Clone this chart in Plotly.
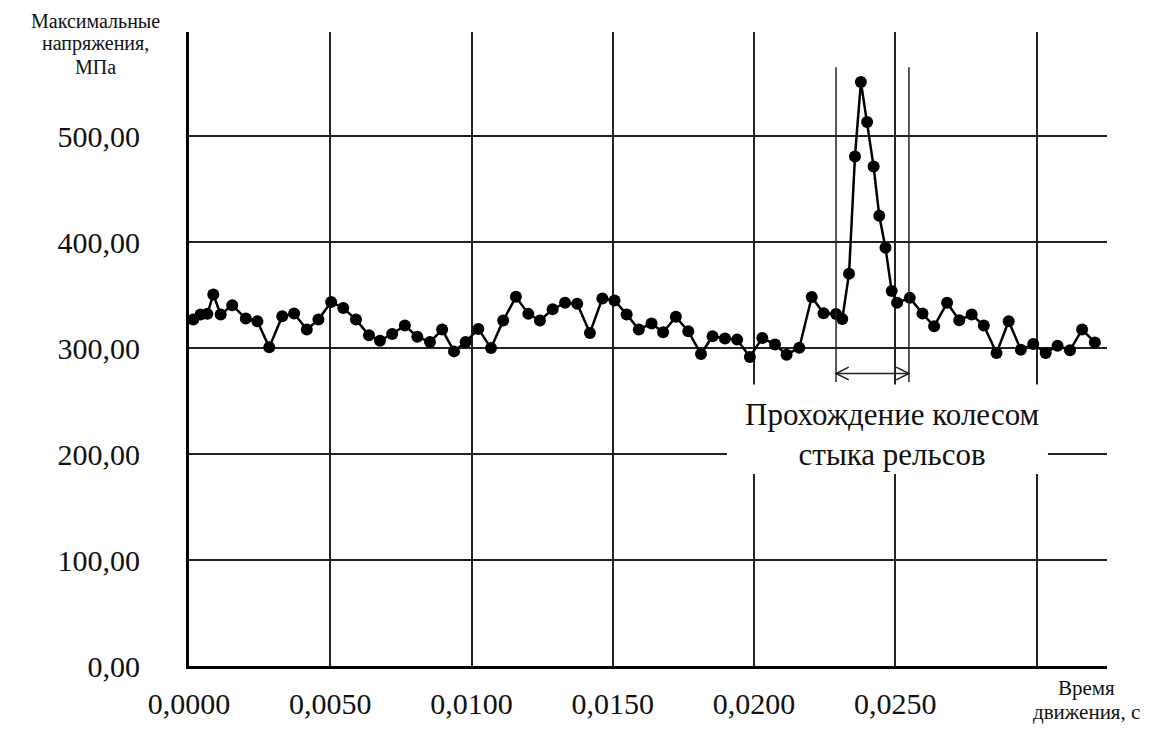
import plotly.graph_objects as go

# ---- data ----
time_s = [0.00015, 0.00041, 0.00065, 0.00086, 0.00112, 0.00153, 0.00201, 0.00242,
          0.00284, 0.00330, 0.00372, 0.00417, 0.00458, 0.00503, 0.00546, 0.00591,
          0.00637, 0.00676, 0.00719, 0.00764, 0.00808, 0.00853, 0.00896, 0.00938,
          0.00979, 0.01024, 0.01069, 0.01112, 0.01157, 0.01201, 0.01242, 0.01287,
          0.01331, 0.01374, 0.01419, 0.01463, 0.01506, 0.01549, 0.01592, 0.01637,
          0.01678, 0.01723, 0.01767, 0.01812, 0.01853, 0.01897, 0.01940, 0.01985,
          0.02029, 0.02074, 0.02115, 0.02160, 0.02204, 0.02246, 0.02290, 0.02312,
          0.02336, 0.02357, 0.02378, 0.02400, 0.02423, 0.02443, 0.02465, 0.02487,
          0.02506, 0.02551, 0.02596, 0.02637, 0.02683, 0.02726, 0.02770, 0.02813,
          0.02858, 0.02901, 0.02944, 0.02988, 0.03032, 0.03074, 0.03118, 0.03161,
          0.03206]
stress_mpa = [326.9, 331.7, 332.3, 350.6, 331.7, 340.5, 327.9, 325.3,
              300.7, 330.1, 332.6, 317.5, 326.9, 343.6, 337.9, 326.9,
              312.1, 307.0, 313.3, 321.3, 310.8, 305.7, 317.5, 296.9,
              305.7, 318.1, 300.0, 326.0, 348.4, 332.3, 326.0, 336.7,
              342.7, 341.8, 314.3, 346.9, 345.0, 331.8, 317.5, 323.2,
              315.0, 329.5, 315.9, 294.4, 311.2, 309.0, 308.0, 291.6,
              309.6, 303.3, 293.8, 300.4, 348.2, 332.8, 332.2, 327.5,
              370.2, 480.8, 551.2, 513.3, 471.3, 424.9, 394.8, 353.8,
              342.7, 347.4, 332.6, 320.6, 342.7, 326.3, 331.7, 321.3,
              295.3, 325.3, 298.5, 303.8, 295.3, 302.3, 297.9, 317.5,
              305.4]

x_tick_vals = [0.0, 0.005, 0.010, 0.015, 0.020, 0.025, 0.030]
x_tick_text = ["0,0000", "0,0050", "0,0100", "0,0150", "0,0200", "0,0250", ""]
y_tick_vals = [0, 100, 200, 300, 400, 500]
y_tick_text = ["0,00", "100,00", "200,00", "300,00", "400,00", "500,00"]

y_title_lines = ["Максимальные", "напряжения,", "МПа"]
x_title_lines = ["Время", "движения, с"]
note_text = "Прохождение колесом<br>стыка рельсов"

# joint-passage bracket (data coordinates)
bracket_x = [0.02290, 0.02548]
bracket_y = [268.0, 565.0]
arrow_y = 276.0

FONT = "Liberation Serif"
X_MAX = 0.03249
Y_MAX = 598.3

fig = go.Figure()
fig.add_trace(go.Scatter(
    x=time_s, y=stress_mpa, mode="lines+markers",
    line=dict(color="black", width=2.5),
    marker=dict(color="black", size=12),
    showlegend=False, hoverinfo="skip"))

shapes = []
for bx in bracket_x:
    shapes.append(dict(type="line", xref="x", yref="y", x0=bx, x1=bx,
                       y0=bracket_y[0], y1=bracket_y[1],
                       line=dict(color="#222", width=1.5)))
shapes.append(dict(type="line", xref="x", yref="y", x0=bracket_x[0], x1=bracket_x[1],
                   y0=arrow_y, y1=arrow_y, line=dict(color="#222", width=1.5)))
dx = 0.00045
dy = 6.0
shapes.append(dict(type="path", xref="x", yref="y",
                   path=f"M {bracket_x[0]+dx},{arrow_y+dy} L {bracket_x[0]},{arrow_y} L {bracket_x[0]+dx},{arrow_y-dy}",
                   line=dict(color="#222", width=1.5)))
shapes.append(dict(type="path", xref="x", yref="y",
                   path=f"M {bracket_x[1]-dx},{arrow_y+dy} L {bracket_x[1]},{arrow_y} L {bracket_x[1]-dx},{arrow_y-dy}",
                   line=dict(color="#222", width=1.5)))
shapes.append(dict(type="rect", xref="x", yref="y", x0=0.01904, x1=0.03040,
                   y0=181.3, y1=265.6, fillcolor="white", line=dict(width=0),
                   layer="above"))

# page offset: the HTML body has an 8px margin
OFF = 8
W, H = 1155 - OFF, 732 - OFF
L, R, T, B = 189 - OFF, 48, 32 - OFF, 69 - OFF
pw, ph = W - L - R, H - T - B

def px_to_paper(xp, yp):
    return (xp - OFF - L) / pw, (H - B - (yp - OFF)) / ph

annotations = []
annotations.append(dict(x=0.02488, y=218.7, xref="x", yref="y", text=note_text,
                        showarrow=False, font=dict(family=FONT, size=31, color="#111"),
                        xanchor="center", yanchor="middle", align="center"))
for i, t in enumerate(y_title_lines):
    ax, ay = px_to_paper(95, 21 + 23 * i)
    annotations.append(dict(x=ax, y=ay, xref="paper", yref="paper", text=t,
                            showarrow=False, font=dict(family=FONT, size=20, color="#111"),
                            xanchor="center", yanchor="middle"))
for i, t in enumerate(x_title_lines):
    ax, ay = px_to_paper(1086, 693 + 24 * i)
    annotations.append(dict(x=ax, y=ay, xref="paper", yref="paper", text=t,
                            showarrow=False, font=dict(family=FONT, size=21, color="#111"),
                            xanchor="center", yanchor="middle"))

fig.update_layout(
    width=W, height=H,
    margin=dict(l=L, r=R, t=T, b=B),
    plot_bgcolor="white", paper_bgcolor="white",
    font=dict(family=FONT, color="#111"),
    shapes=shapes, annotations=annotations,
    xaxis=dict(range=[0, X_MAX], tickvals=x_tick_vals, ticktext=x_tick_text,
               showgrid=True, gridcolor="#222", gridwidth=1.5,
               zeroline=False, showline=True, linecolor="black", linewidth=3,
               ticks="", tickfont=dict(family=FONT, size=30, color="#111"),
               ticklabelstandoff=9, fixedrange=True),
    yaxis=dict(range=[0, Y_MAX], tickvals=y_tick_vals, ticktext=y_tick_text,
               showgrid=True, gridcolor="#222", gridwidth=1.5,
               zeroline=False, showline=True, linecolor="black", linewidth=3,
               ticks="", tickfont=dict(family=FONT, size=30, color="#111"),
               ticklabelstandoff=40, fixedrange=True),
)

fig.write_html("out.html")
